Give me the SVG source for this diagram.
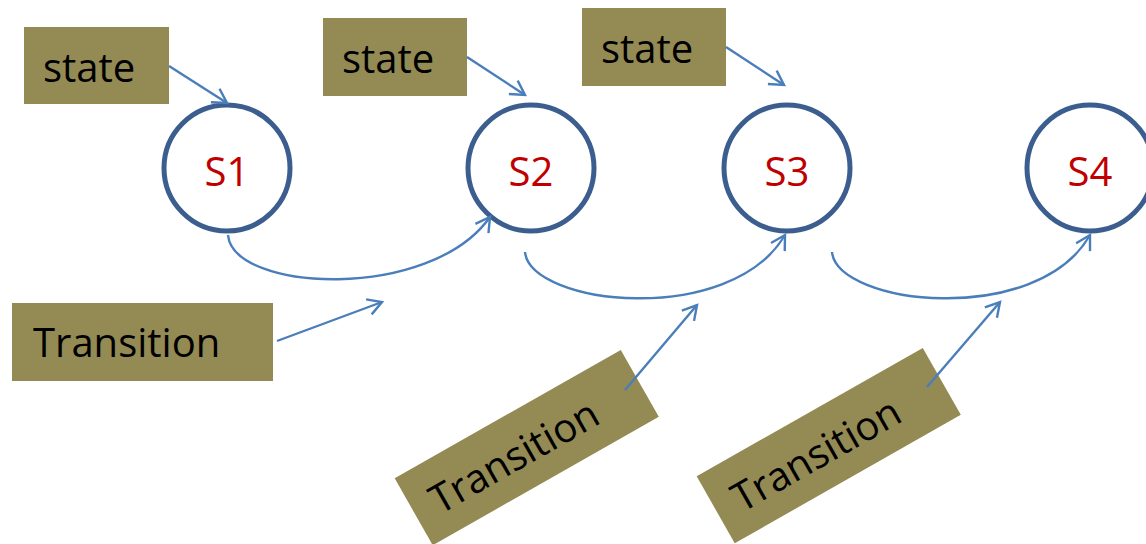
<svg xmlns="http://www.w3.org/2000/svg" width="1146" height="544" viewBox="0 0 1146 544">
<style>
.box{fill:#948A54}
.lbl{font-family:"Open Sans","Liberation Sans",Arial,sans-serif;font-size:40px;fill:#000}
.st{fill:#fff;stroke:#3B5E8F;stroke-width:5}
.sl{font-family:"Open Sans","Liberation Sans",Arial,sans-serif;font-size:40px;fill:#C00000;text-anchor:middle}
.c{fill:none;stroke:#4A7EBB;stroke-width:2.4;marker-end:url(#ah)}
</style>
<defs>
<marker id="ah" markerUnits="userSpaceOnUse" markerWidth="24" markerHeight="24" refX="15" refY="9" orient="auto" overflow="visible">
<path d="M1,1 L15,9 L1,17" fill="none" stroke="#4A7EBB" stroke-width="2.4"/>
</marker>
</defs>
<g id="state1"><rect class="box" x="24" y="27" width="145" height="77"/><text class="lbl" x="43" y="82">state</text></g>
<g id="state2"><rect class="box" x="323" y="18" width="144" height="78"/><text class="lbl" x="342" y="73">state</text></g>
<g id="state3"><rect class="box" x="582" y="8" width="144" height="78"/><text class="lbl" x="601" y="63">state</text></g>
<g id="S1"><circle class="st" cx="227" cy="168" r="63"/><text class="sl" x="227" y="186">S1</text></g>
<g id="S2"><circle class="st" cx="531" cy="168" r="63"/><text class="sl" x="531" y="186">S2</text></g>
<g id="S3"><circle class="st" cx="787" cy="168" r="63"/><text class="sl" x="787" y="186">S3</text></g>
<g id="S4"><circle class="st" cx="1090" cy="168" r="63"/><text class="sl" x="1090" y="186">S4</text></g>
<g id="transition1"><rect class="box" x="12" y="303" width="261" height="78"/><text class="lbl" x="33" y="357">Transition</text></g>
<g id="transition2" transform="translate(527,448) rotate(-29.6)"><rect class="box" x="-130" y="-39" width="260" height="77"/><text class="lbl" x="-109" y="15">Transition</text></g>
<g id="transition3" transform="translate(829,446) rotate(-29.6)"><rect class="box" x="-130" y="-39" width="260" height="77"/><text class="lbl" x="-109" y="15">Transition</text></g>
<g id="connectors">
<path class="c" d="M169,66 L227,103"/>
<path class="c" d="M467,57 L525,95"/>
<path class="c" d="M726,47 L784,85"/>
<path class="c" d="M228,235 C233,292 430,302 490,217"/>
<path class="c" d="M525,252 C530,305 730,328 785,235"/>
<path class="c" d="M832,252 C837,305 1037,328 1090,235"/>
<path class="c" d="M277,341 L382,302"/>
<path class="c" d="M625,390 L697,305"/>
<path class="c" d="M927,387 L1000,302"/>
</g>
</svg>
